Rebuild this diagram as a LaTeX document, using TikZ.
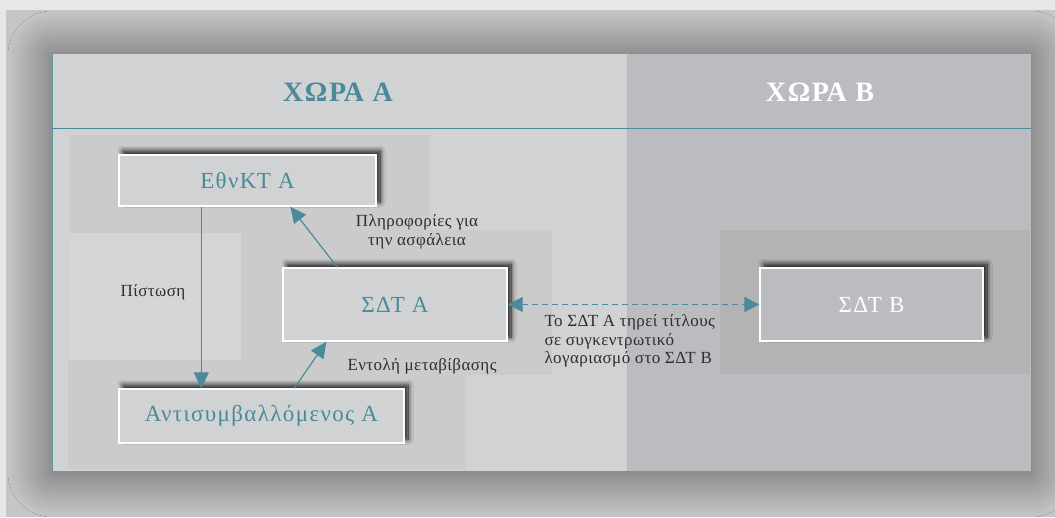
\documentclass[tikz,border=0pt]{standalone}
\usepackage{fontspec}
\setmainfont{Liberation Serif}
\newfontfamily\boxfont[LetterSpace=6]{Liberation Serif}
\newfontfamily\lblfont[LetterSpace=2.5]{Liberation Serif}
\newfontfamily\headfont[LetterSpace=6]{Liberation Serif}
\usepackage{tikz}
\usetikzlibrary{arrows.meta,shadows.blur}

\definecolor{outerbg}{HTML}{E6E7E9}
\definecolor{frame}{HTML}{C6C6C6}
\definecolor{paneA}{HTML}{D1D2D4}
\definecolor{paneB}{HTML}{BBBCC0}
\definecolor{patchA}{HTML}{CBCBCB}
\definecolor{patchL}{HTML}{D5D5D5}
\definecolor{patchB}{HTML}{B3B3B3}
\definecolor{tealA}{HTML}{4A8A9A}
\definecolor{labelgray}{HTML}{2E2E2E}

\tikzset{
  head/.style={font=\headfont\fontsize{28}{30}\selectfont\bfseries},
  sysbox/.style={draw=white,line width=1.4pt,fill=paneA,text=tealA,
    font=\boxfont\fontsize{23}{25}\selectfont,
    blur shadow={shadow xshift=4pt,shadow yshift=4pt,shadow blur radius=5pt,shadow opacity=90,shadow blur steps=12}},
  lbl/.style={text=labelgray,font=\lblfont\fontsize{17}{18.5}\selectfont},
  flow/.style={draw=tealA,line width=1.2pt,-{Triangle[length=16pt,width=15pt]}},
  link/.style={draw=tealA,line width=1pt,dash pattern=on 6pt off 4pt,{Triangle[length=15pt,width=15pt]}-{Triangle[length=15pt,width=15pt]}}
}

\begin{document}
\begin{tikzpicture}[x=1pt,y=-1pt]
\newcommand{\divx}{627}
\newcommand{\headline}{128}

\useasboundingbox (0,0) rectangle (1055,517);
\fill[outerbg] (0,0) rectangle (1055,517);
\fill[frame] (6,10) rectangle (1055,517);

% the two countries
\fill[paneA,blur shadow={shadow xshift=0pt,shadow yshift=-2pt,shadow blur radius=44pt,shadow opacity=55,shadow blur steps=40}]
  (52,53) rectangle (1031,471);
\fill[paneB] (\divx,53) rectangle (1031,471);

% soft background patches
\fill[patchA] (70,135) rectangle (430,233);
\fill[patchA] (241,233) rectangle (300,360);
\fill[patchL] (70,233) rectangle (241,360);
\fill[patchA] (265,230) rectangle (552,375);
\fill[patchA] (68,360) rectangle (465,469);
\fill[patchB] (720,230) rectangle (1030,374);

\draw[tealA!85,line width=0.8pt] (52,53) rectangle (1031,471);
\draw[tealA,line width=0.8pt] (52,\headline) -- (1031,\headline);
\draw[tealA!60,line width=0.8pt,dotted] (\divx,53) -- (\divx,471);

\node[head,text=tealA] (hdA) at (338,92) {ΧΩΡΑ Α};
\node[head,text=white] (hdB) at (820,92) {ΧΩΡΑ Β};

% boxes
\node[sysbox,minimum width=257pt,minimum height=51pt] (ncb) at (247.5,180.5) {ΕθνΚΤ Α};
\node[sysbox,minimum width=224pt,minimum height=73pt] (csdA) at (395,304.5) {ΣΔΤ Α};
\node[sysbox,minimum width=285pt,minimum height=54pt] (cpty) at (261.5,416) {Αντισυμβαλλόμενος Α};
\node[sysbox,fill=paneB,text=white,minimum width=223pt,minimum height=73pt] (csdB) at (871.5,304.5) {ΣΔΤ Β};

% connectors
\draw[flow] ([xshift=83pt]ncb.south west) -- ([xshift=83pt]ncb.south west |- cpty.north);
\draw[flow] ([xshift=55pt]csdA.north west) -- ([xshift=172pt]ncb.south west);
\draw[flow] ([xshift=176pt]cpty.north west) -- ([xshift=44pt]csdA.south west);
\draw[link] (csdA.east) -- (csdB.west);

% labels
\node[lbl] (lcredit) at (153,292) {Πίστωση};
\node[lbl,align=center] (linfo) at (417,232) {Πληροφορίες για\\την ασφάλεια};
\node[lbl] (lorder) at (422,366) {Εντολή μεταβίβασης};
\node[lbl,align=left,anchor=west] (lhold) at (541,341) {Το ΣΔΤ Α τηρεί τίτλους\\σε συγκεντρωτικό\\λογαριασμό στο ΣΔΤ Β};
\end{tikzpicture}
\end{document}
